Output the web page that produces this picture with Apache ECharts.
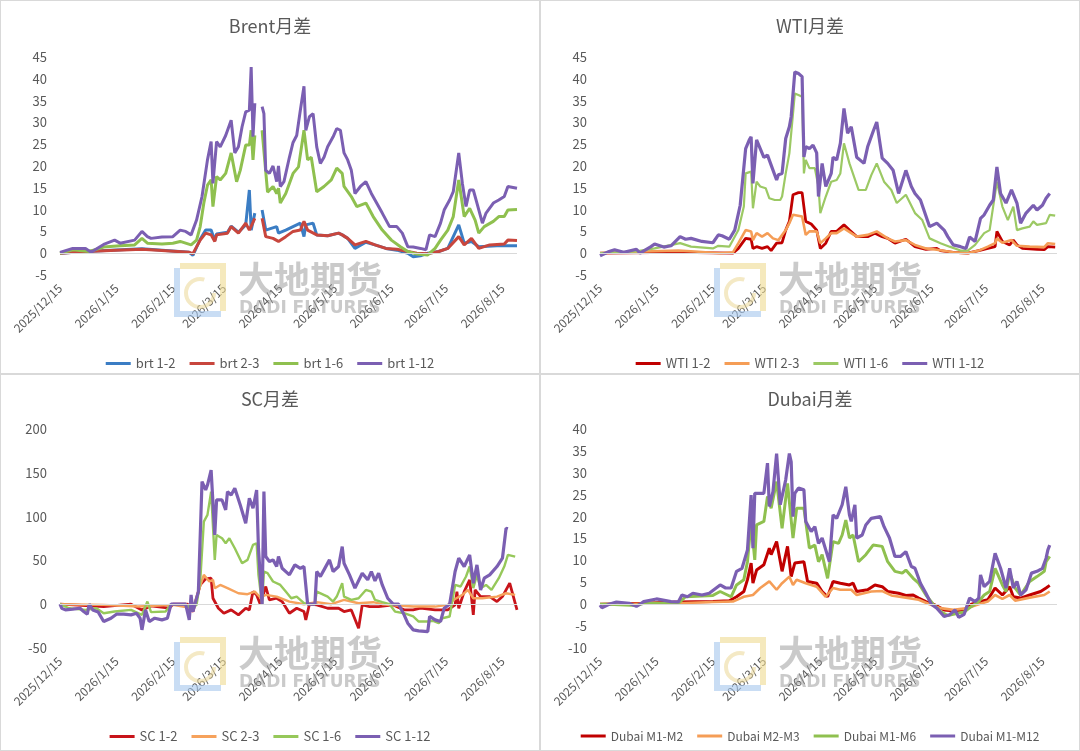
<!DOCTYPE html>
<html>
<head>
<meta charset="utf-8">
<script src="https://cdn.jsdelivr.net/npm/echarts@6/dist/echarts.min.js"></script>
<style>
body { margin: 0; background: #fff; }
.panel { position: absolute; box-sizing: border-box; border: 1px solid #d9d9d9; }
.chart { position: absolute; left: -1px; top: -1px; }
</style>
</head>
<body>
<div class="panel" style="left:0;top:0;width:540px;height:374px"><div class="chart" id="brent_chart" style="width:540px;height:374px"></div></div>
<div class="panel" style="left:540px;top:0;width:540px;height:374px"><div class="chart" id="wti_chart" style="width:540px;height:374px"></div></div>
<div class="panel" style="left:0;top:374px;width:540px;height:377px"><div class="chart" id="sc_chart" style="width:540px;height:377px"></div></div>
<div class="panel" style="left:540px;top:374px;width:540px;height:377px"><div class="chart" id="dubai_chart" style="width:540px;height:377px"></div></div>
<script>
// x values are days counted from 2025/12/15
var tickLabels = ['2025/12/15', '2026/1/15', '2026/2/15', '2026/3/15', '2026/4/15', '2026/5/15', '2026/6/15', '2026/7/15', '2026/8/15'];
var lastDay = 251;

// Brent
var brt12 = [[0,0],[14,0.4],[45,1.0],[71,0.2],[73,-0.5],[77,3.2],[80,5.3],[83,5.3],[85,2.9],[86,4.4],[92,4.8],[94,6.2],[98,4.8],[102,6.5],[103,6.1],[104,14.5],[105,5.3],[107,9.2],[108,null],[111,9.9],[113,5.3],[119,6.1],[120,4.6],[124,5.3],[128,6.1],[132,6.9],[133,6.5],[134,3.8],[135,6.5],[139,6.9],[141,4.2],[147,4],[153,4.6],[155,4.2],[158,3.4],[162,1.1],[168,2.5],[173,1.9],[179,1.1],[185,0.7],[191,0],[194,-0.8],[198,-0.6],[202,0],[208,0.4],[213,1.1],[219,6.5],[222,2.3],[226,2.7],[230,1.5],[240,1.7],[251,1.7]];
var brt23 = [[0,0],[14,0.4],[45,0.9],[71,0.2],[73,-0.1],[77,3],[80,4.6],[83,4.2],[85,2.7],[86,4.2],[92,4.6],[94,6.1],[98,4.6],[102,6.9],[104,5.3],[107,8],[108,null],[111,8],[113,3.8],[117,3.4],[120,2.7],[124,3.8],[128,5],[132,5.3],[134,7.3],[136,5.3],[141,4.2],[147,4],[153,4.6],[155,4.2],[158,3.4],[162,1.9],[168,2.7],[173,1.9],[179,1.1],[185,0.9],[191,0.4],[196,0],[202,-0.1],[208,0.4],[213,1.1],[219,3.8],[222,1.9],[226,3.4],[230,1.1],[236,1.9],[244,2.1],[246,3],[251,2.9]];
var brt16 = [[0,0],[7,0.8],[16,0.4],[24,1.4],[33,1.7],[41,1.9],[45,3.4],[48,2.3],[56,2.1],[62,2.3],[66,2.7],[69,2.3],[72,1.9],[75,3],[77,6.1],[79,11.5],[81,15.6],[83,16.8],[84,10.7],[86,17.6],[88,16.8],[91,18.3],[94,23],[97,16.4],[99,19],[102,24.8],[104,24.8],[105,28.2],[106,21.4],[107,27],[108,null],[111,28.2],[114,14],[117,15.3],[119,13.7],[120,14.9],[121,11.5],[124,13.7],[128,18.3],[131,19.8],[134,28.2],[136,21.4],[138,22],[141,14.1],[145,15.3],[149,16.8],[152,19.5],[155,18.3],[156,15.3],[160,13],[163,10.7],[168,11.5],[172,8.4],[177,5.3],[182,3],[187,1.5],[191,0.4],[196,-0.2],[202,-0.4],[206,1.1],[209,3],[213,5.3],[216,8.4],[219,16.8],[222,8.4],[225,10.3],[228,7.6],[230,4.6],[233,6.1],[238,7.3],[241,8.4],[244,8.4],[246,9.9],[251,10]];
var brt112 = [[0,0.2],[7,1.1],[14,1.1],[17,0.2],[24,2],[30,3],[33,2.3],[41,3],[45,5],[48,3.8],[50,3.4],[56,3.7],[62,3.8],[66,5.3],[69,5],[72,4.2],[75,7.6],[78,13],[81,21.4],[83,25.6],[84,16],[86,25.6],[88,24.4],[91,27],[94,30.5],[96,23],[98,24.4],[100,29],[102,32.4],[104,32.8],[105,42.7],[106,26.7],[107,34.4],[108,null],[111,33.6],[112,32],[113,19],[115,18.3],[117,20],[119,16.4],[120,20],[121,15.3],[123,16.4],[126,22],[128,25.4],[130,27],[132,32.8],[134,38.3],[135,28.2],[137,31.3],[139,32],[141,24.4],[143,20.6],[145,22],[147,24.4],[150,26.7],[152,28.6],[154,28.2],[156,23],[158,21.4],[160,19],[162,13.7],[165,15.3],[168,16.4],[171,13.7],[173,12.2],[177,9.2],[181,6.1],[185,6.1],[188,4.6],[191,1.5],[194,1.4],[198,1.1],[201,0.8],[203,4.2],[206,3.8],[209,6.9],[211,9.9],[214,12.2],[216,14.1],[219,23],[221,16],[223,10.7],[225,14.5],[227,14.5],[229,11.5],[232,6.9],[234,9.2],[238,11.5],[241,12.2],[244,13],[246,15.3],[251,14.9]];

// WTI
var wti12 = [[0,0],[43,0.2],[73,0],[76,1.1],[80,3.4],[83,3.2],[84,1.1],[86,1.5],[89,1.1],[92,1.5],[94,0.6],[97,2.3],[100,2.4],[102,5.3],[104,7.3],[106,13.4],[109,13.9],[111,13.9],[113,7.3],[116,6.7],[119,5.3],[121,1.1],[124,2.3],[127,5],[130,5],[134,6.5],[137,5.3],[141,3.8],[147,3.8],[151,4.6],[155,3.8],[158,3.4],[162,2.3],[168,3.2],[173,1.5],[179,0.9],[185,1.1],[187,0.6],[194,0.2],[202,0],[208,0.6],[213,1.1],[217,1.5],[218,5],[221,2.7],[225,1.9],[227,3],[229,1.9],[232,1.1],[240,0.9],[244,0.8],[246,1.5],[250,1.4]];
var wti23 = [[0,0],[24,0.4],[43,0.6],[52,0.4],[66,0],[73,0.2],[76,2.3],[80,5.3],[83,5],[84,3],[86,4.6],[89,3.8],[92,4.6],[95,3.4],[98,3],[102,5.3],[104,6.9],[106,8.8],[111,8.4],[113,4.2],[115,5],[119,5],[121,2.3],[124,3.4],[127,4.6],[130,4.6],[134,5.7],[138,4.6],[141,3.8],[147,4.2],[152,5],[155,4.2],[158,3.4],[162,2.7],[168,3],[173,1.9],[179,1.1],[185,0.8],[194,0.2],[202,0],[208,0.6],[213,1.5],[217,2.3],[218,3.4],[221,2.4],[226,3],[229,1.7],[236,1.5],[244,1.4],[246,2.3],[250,2.1]];
var wti16 = [[0,0],[20,0.4],[30,1.1],[44,2.3],[50,1.5],[62,1.1],[65,1.7],[71,1.5],[76,5.3],[79,10.7],[80,18.3],[83,18.7],[84,10.3],[86,16.4],[88,15.3],[91,14.9],[93,12.6],[96,12.2],[99,12.2],[100,13],[102,18.3],[104,22.9],[107,36.6],[109,36.3],[111,35.9],[112,18.3],[113,21.4],[115,19.5],[118,19.5],[120,15.3],[121,9.2],[124,13],[127,16.4],[130,16.8],[132,18.3],[134,25.2],[137,20.6],[138,21],[142,14.5],[146,14.5],[149,17.9],[152,20.6],[156,16.4],[160,14.5],[163,11.5],[168,13.4],[173,9.2],[177,7.6],[181,3.4],[187,2.3],[192,1.5],[198,0.6],[202,0.6],[206,1.9],[211,4.6],[214,5.3],[218,16.4],[221,10.7],[224,7.6],[227,10.7],[229,5.3],[232,5.7],[236,6.1],[238,7.3],[240,6.5],[245,6.9],[247,8.8],[250,8.6]];
var wti112 = [[0,-0.6],[5,0.4],[8,0.8],[13,0.2],[20,0.9],[22,0],[28,1.5],[30,2.1],[35,1.4],[39,1.7],[44,3.8],[47,3.2],[50,3.4],[56,2.7],[62,2.4],[65,4.2],[67,4],[71,3.2],[74,5.3],[77,11],[80,24],[82,26],[83,26.7],[84,16],[86,26],[88,24],[90,22],[92,22.5],[94,20.2],[97,16.8],[98,18],[100,18.3],[102,26.3],[104,29],[105,31.3],[107,41.6],[109,41.2],[111,40.5],[112,22.1],[113,24.4],[115,24],[117,24.8],[119,23],[120,13],[122,20.6],[124,15.3],[127,18.3],[128,22],[130,21.4],[132,25.2],[134,33.2],[136,27.5],[138,29],[141,22],[145,20.6],[147,24.4],[150,27.9],[152,30.1],[155,21.8],[158,20.6],[161,19],[164,13.7],[168,19],[171,15.3],[173,13.7],[176,12.2],[181,6.1],[185,6.9],[189,5.3],[191,3.8],[194,1.9],[198,1.5],[201,1.1],[203,3.7],[206,2.7],[209,8],[211,8.8],[214,11],[216,12.2],[218,19.8],[220,13.7],[223,11.5],[226,14.5],[229,11.5],[231,6.9],[234,9.2],[238,11],[240,9.9],[243,11],[245,12.6],[247,13.7]];

// SC
var sc12 = [[0,0],[24,-2.7],[39,0],[45,-6.5],[50,-1.9],[60,-4.6],[62,0],[70,0],[73,-8.4],[77,22],[80,28.9],[83,29.7],[84,6.8],[87,-4.6],[90,-10.3],[94,-6.5],[98,-12.2],[102,-4.6],[104,-6.5],[106,14.4],[108,10.6],[110,0],[113,20.2],[115,4.9],[119,6.8],[122,3],[126,-10.3],[130,-4.6],[134,-8.4],[135,-17.9],[137,0],[141,-0.8],[147,-4.6],[153,-4.6],[156,-8.4],[160,-6.5],[164,-27.4],[166,-0.8],[170,-2.7],[175,-2.7],[183,-0.8],[189,-6.5],[194,-6.5],[198,-4.6],[206,-6.5],[213,-6.5],[217,-0.8],[218,14.4],[219,-4.6],[222,14.4],[225,27.8],[227,-12.2],[228,16.3],[231,8.7],[236,8.7],[240,3],[243,8.7],[247,24],[251,-6.5]];
var sc23 = [[0,0],[24,-0.8],[43,-2.7],[62,-0.8],[73,-4.6],[76,14.4],[79,33.5],[82,25.9],[84,27.8],[85,18.3],[88,22],[92,18.3],[98,12.5],[103,11.4],[107,14.4],[110,7.6],[113,10.6],[119,8.7],[126,3],[134,0],[141,2.3],[149,0],[156,4.9],[164,1.1],[172,2.3],[177,0],[185,-1.5],[194,-2.7],[206,-2.7],[213,-0.8],[217,6],[221,10.6],[224,16.3],[227,6.8],[232,6.8],[240,8.7],[245,12.5],[250,10.6]];
var sc16 = [[0,0],[5,-4.6],[14,-6.5],[20,-4.6],[24,-10.3],[30,-8.4],[39,-6.5],[45,-12.2],[48,3],[50,-9],[58,-8.4],[61,0],[69,0],[72,-4.6],[75,-0.8],[77,25.9],[79,94.3],[81,101.9],[83,128.5],[85,50.6],[86,79],[89,75.3],[91,69.6],[93,75.3],[96,63.9],[100,46.8],[103,50.6],[106,67.7],[108,69.6],[109,33.5],[111,0],[112,37.3],[114,35.4],[117,25.9],[121,22],[124,14.4],[127,6.8],[130,8.7],[134,1.1],[136,0],[140,0],[141,14.4],[147,8.7],[150,3],[152,8.7],[155,24],[156,8.7],[160,4.9],[164,6.8],[168,16.3],[171,14.4],[173,4.9],[177,2.3],[181,0],[184,-8.4],[189,-10.3],[194,-14],[197,-19.8],[202,-19.8],[205,-19],[208,-21.7],[210,-16],[214,-14],[217,22],[220,20.2],[223,31.6],[225,43],[227,18.3],[229,33.5],[231,18.3],[234,22],[237,16.3],[241,29.7],[244,43],[246,56.3],[250,54.4]];
var sc112 = [[0,0],[1,-4.6],[3,-6.5],[7,-5.7],[11,-4.6],[13,-8.4],[15,-11.4],[16,0],[18,-6.5],[21,-9],[24,-19.8],[28,-16],[31,-11.4],[35,-11.4],[39,-12.2],[42,-10.3],[44,-16],[45,-29.3],[47,-6.5],[49,-19.8],[52,-16],[56,-17.9],[59,-16],[61,0],[69,0],[71,-17.9],[72,10.6],[73,-8.4],[76,14.4],[78,140],[80,130.4],[81,136],[83,153],[84,151],[85,79],[86,119],[89,119],[91,107.6],[92,128.5],[94,124.7],[96,132.3],[99,113.3],[102,92.4],[104,121],[106,109.5],[108,130.4],[109,63.9],[111,-0.8],[112,128.5],[113,54.4],[115,48.7],[117,50.6],[119,43],[120,54.4],[122,41],[126,33.5],[129,44.9],[132,41],[134,43],[136,0],[140,0],[141,37.3],[143,31.6],[145,39.2],[148,50.6],[150,37.3],[153,43],[155,65.8],[156,46.8],[159,33.5],[162,18.3],[166,35.4],[169,27.8],[171,37.3],[173,26.6],[175,35.4],[177,22],[180,6.8],[183,0],[186,0],[189,-12.2],[191,-21.7],[194,-29.3],[197,-30.4],[202,-31.2],[203,-14],[206,-17.9],[209,-19.8],[211,-4.6],[214,0],[217,37.3],[219,52.5],[222,43],[225,56.3],[227,24],[229,44.9],[231,16.3],[233,29.7],[236,33.5],[240,43],[243,52.5],[245,86.7],[246,86]];

// Dubai
var dub12 = [[0,0],[24,0.2],[43,0.5],[62,0.6],[71,0.8],[75,1.7],[79,2.9],[81,5.6],[83,9.4],[84,4.8],[86,7.8],[90,9],[93,12.8],[94,11.3],[97,14.3],[100,7.5],[103,13.2],[105,6.3],[107,9.4],[112,9.7],[114,5.2],[119,4.8],[122,2.9],[125,1.7],[128,5.2],[132,4.8],[137,4.4],[139,4.8],[141,2.9],[147,3.3],[151,4.4],[155,4],[158,2.9],[164,2.5],[168,2],[172,2.1],[175,1.4],[179,0.6],[183,0],[189,-1.3],[194,-1.5],[200,-1.3],[204,0],[209,0.6],[213,1],[217,3.7],[221,2.1],[225,4],[227,1.7],[231,1.4],[236,2.1],[242,2.9],[245,3.7],[247,4.3]];
var dub23 = [[0,0],[43,0.2],[62,0.5],[73,0.6],[79,1.7],[84,2.1],[88,3.7],[93,5.2],[97,3.3],[100,4.8],[104,6.3],[106,4.4],[108,5.6],[113,4.8],[119,4],[124,1.7],[128,3.7],[132,3.3],[138,3.3],[141,2.1],[149,2.9],[155,3],[160,2],[168,1.5],[175,1],[181,0],[187,-0.9],[194,-1.3],[202,-0.9],[208,0],[213,0.6],[217,2.1],[221,1.2],[225,2.1],[228,0.8],[236,1.5],[244,2.1],[247,2.9]];
var dub16 = [[0,0],[5,0],[20,-0.3],[24,0.2],[43,0.2],[47,1.7],[62,2],[66,2.9],[72,1.7],[75,4.4],[79,5.6],[81,9.7],[83,18.9],[85,10.1],[86,18.1],[90,18.9],[92,24.6],[94,21.9],[97,28],[100,17.3],[103,27.6],[106,15.1],[108,21.9],[112,21.9],[115,12.8],[118,13.5],[120,9.7],[122,11.3],[125,5.9],[128,14.3],[131,13.9],[133,15.8],[135,19.2],[137,15.1],[139,15.8],[142,9.7],[146,11.3],[150,13.5],[155,13.2],[158,9.7],[162,7.5],[166,7.1],[168,7.8],[172,5.9],[175,4.8],[179,2.1],[183,0],[187,-1.7],[191,-2.6],[194,-2.3],[200,-1.8],[204,-0.5],[208,0.6],[211,2.1],[214,2.9],[217,8.2],[221,4.4],[223,2.9],[225,7.1],[228,3.7],[231,2.1],[236,5.2],[240,6.3],[244,7.5],[245,9.7],[247,10.9]];
var dub112 = [[0,-0.2],[1,-0.8],[5,0],[9,0.5],[16,0.2],[20,-0.5],[22,0],[24,0.6],[31,1.2],[39,0.6],[43,0.5],[45,2.1],[48,1.7],[51,2.5],[56,2.1],[60,2.5],[66,4.4],[69,3.7],[72,3.7],[75,7.5],[78,8.2],[81,12.4],[83,24.9],[84,12.8],[85,25.3],[90,25.3],[92,32.2],[93,22.3],[95,25.7],[97,34.4],[99,22.7],[102,28.4],[104,34.4],[105,32.5],[106,20],[107,25.3],[109,26.5],[112,26.1],[113,18.9],[116,16.6],[118,17.7],[120,13.9],[122,15.1],[124,12.4],[126,9.7],[128,20.4],[130,19.6],[133,22.7],[135,26.8],[137,20.4],[138,18.9],[140,22.7],[141,15.1],[144,15.8],[146,18.1],[149,19.6],[154,20],[156,17.7],[159,15.1],[162,10.9],[165,10.9],[168,12],[171,8.6],[173,8.2],[176,4.8],[179,2.5],[182,0],[185,-0.9],[189,-2.8],[192,-2.4],[195,-1.3],[197,-3],[200,-2.3],[203,1.4],[206,0.6],[208,1.4],[209,6.7],[211,4],[214,5.2],[217,11.6],[220,8.2],[223,3.7],[225,8.2],[227,3.7],[229,5.2],[231,2.1],[234,3.3],[237,7.1],[240,7.5],[243,8.2],[245,10.5],[246,12.4],[247,13.5]];

var PURPLE = '#7b5fb2', GREEN = '#8fc04f';

var BASE = Date.UTC(2025, 11, 15);
var DAY = 86400000;

function parseDay(s) {
	var p = s.split('/');
	return Math.round((Date.UTC(+p[0], +p[1] - 1, +p[2]) - BASE) / DAY);
}

function dayLabel(v) {
	var d = new Date(BASE + v * DAY);
	return d.getUTCFullYear() + '/' + (d.getUTCMonth() + 1) + '/' + d.getUTCDate();
}

// company watermark drawn over every panel
function watermark() {
	var gray = 'rgba(150,150,150,0.5)';
	return [
		{ type: 'polyline', z: 100, silent: true,
		  shape: { points: [[177, 268], [177, 314], [221, 314]] },
		  style: { fill: 'none', stroke: 'rgba(165,198,236,0.6)', lineWidth: 6 } },
		{ type: 'polyline', z: 100, silent: true,
		  shape: { points: [[180, 266], [223, 266], [223, 311]] },
		  style: { fill: 'none', stroke: 'rgba(238,218,145,0.6)', lineWidth: 6 } },
		{ type: 'arc', z: 100, silent: true,
		  shape: { cx: 200, cy: 293, r: 14, startAngle: 0, endAngle: Math.PI * 1.6 },
		  style: { fill: 'none', stroke: 'rgba(235,215,150,0.55)', lineWidth: 4 } },
		{ type: 'text', left: 238, top: 261, z: 100, silent: true,
		  style: { text: '大地期货', fill: gray, font: 'bold 36px "Noto Sans CJK SC"' } },
		{ type: 'text', left: 239, top: 300, z: 100, silent: true,
		  style: { text: 'DADI FUTURES', fill: gray, font: 'bold 17px "DejaVu Sans"' } }
	];
}

function drawPanel(domId, opt) {
	var chart = echarts.init(document.getElementById(domId));
	var series = [];
	for (var i = 0; i < opt.names.length; i++) {
		series.push({
			name: opt.names[i],
			type: 'line',
			data: opt.data[i],
			symbol: 'none',
			connectNulls: false,
			lineStyle: { width: opt.widths[i], color: opt.colors[i] },
			itemStyle: { color: opt.colors[i] },
			markLine: i === 0 ? {
				silent: true, symbol: 'none', label: { show: false },
				lineStyle: { color: '#d9d9d9', type: 'solid', width: 1 },
				data: [{ yAxis: 0 }]
			} : undefined
		});
	}
	chart.setOption({
		animation: false,
		textStyle: { fontFamily: '"Noto Sans CJK SC", "Noto Sans", sans-serif' },
		title: {
			text: opt.title, left: 'center', top: opt.titleTop, padding: 0,
			textStyle: { fontSize: 18, fontWeight: 'normal', color: '#595959' }
		},
		legend: {
			data: opt.names, left: 'center', top: opt.legendTop, padding: 0,
			icon: 'rect', itemWidth: 25, itemHeight: 3, itemGap: 14,
			textStyle: { fontSize: opt.legendFont, color: '#595959' }
		},
		grid: { left: 60, top: opt.gridTop, width: 457, height: opt.gridHeight, outerBoundsMode: 'none' },
		xAxis: {
			type: 'value', min: 0, max: lastDay,
			axisLine: { show: false }, axisTick: { show: false }, splitLine: { show: false },
			axisLabel: {
				customValues: tickLabels.map(parseDay),
				formatter: dayLabel, rotate: 45, margin: 11,
				fontSize: 12, color: '#595959'
			}
		},
		yAxis: {
			type: 'value', min: opt.yMin, max: opt.yMax, interval: opt.yStep,
			axisLine: { show: false }, axisTick: { show: false }, splitLine: { show: false },
			axisLabel: { fontSize: 13, color: '#595959', margin: 13 }
		},
		graphic: watermark(),
		series: series
	});
	return chart;
}

drawPanel('brent_chart', {
	title: 'Brent月差', titleTop: 17, legendTop: 357, gridTop: 57, gridHeight: 218,
	names: ['brt 1-2', 'brt 2-3', 'brt 1-6', 'brt 1-12'],
	colors: ['#3b7dc4', '#c8463d', GREEN, PURPLE],
	widths: [3, 3, 3, 3],
	data: [brt12, brt23, brt16, brt112],
	yMin: -5, yMax: 45, yStep: 5, legendFont: 13
});

drawPanel('wti_chart', {
	title: 'WTI月差', titleTop: 17, legendTop: 357, gridTop: 57, gridHeight: 218,
	names: ['WTI 1-2', 'WTI 2-3', 'WTI 1-6', 'WTI 1-12'],
	colors: ['#c00000', '#f59d56', '#9cc964', PURPLE],
	widths: [2.8, 2.6, 2.2, 3.2],
	data: [wti12, wti23, wti16, wti112],
	yMin: -5, yMax: 45, yStep: 5, legendFont: 13
});

drawPanel('sc_chart', {
	title: 'SC月差', titleTop: 16, legendTop: 356, gridTop: 55, gridHeight: 219,
	names: ['SC 1-2', 'SC 2-3', 'SC 1-6', 'SC 1-12'],
	colors: ['#c8141a', '#f6a25c', '#96c85a', PURPLE],
	widths: [2.8, 2.4, 2.4, 3.2],
	data: [sc12, sc23, sc16, sc112],
	yMin: -50, yMax: 200, yStep: 50, legendFont: 13
});

drawPanel('dubai_chart', {
	title: 'Dubai月差', titleTop: 16, legendTop: 356, gridTop: 55, gridHeight: 219,
	names: ['Dubai M1-M2', 'Dubai M2-M3', 'Dubai M1-M6', 'Dubai M1-M12'],
	colors: ['#c00000', '#f59d56', GREEN, PURPLE],
	widths: [3, 2.6, 3, 3.2],
	data: [dub12, dub23, dub16, dub112],
	yMin: -10, yMax: 40, yStep: 5, legendFont: 12
});
</script>
</body>
</html>
